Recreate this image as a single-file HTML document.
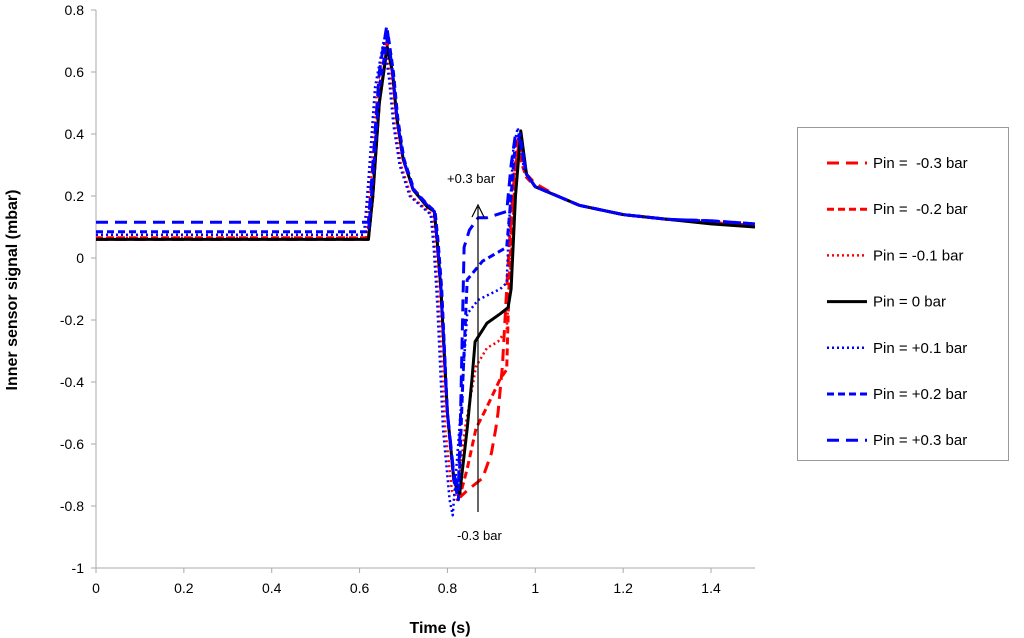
<!DOCTYPE html>
<html><head><meta charset="utf-8"><style>
body{margin:0;background:#fff;}
svg{display:block;font-family:"Liberation Sans",Arial,sans-serif;}
</style></head><body>
<svg id="chart" width="1024" height="638" viewBox="0 0 1024 638">
<g id="axes"></g>
<g id="series"></g>
<g>
<line x1="478" y1="512" x2="478" y2="207" stroke="#000" stroke-width="1.2"/>
<path d="M472,217 L478,205 L484,217" fill="none" stroke="#000" stroke-width="1.2"/>
<text x="447" y="183" font-size="13">+0.3 bar</text>
<text x="457" y="540" font-size="13">-0.3 bar</text>
</g>
<text x="440" y="633" font-size="16" font-weight="bold" text-anchor="middle">Time (s)</text>
<text transform="translate(17,290) rotate(-90)" font-size="16" font-weight="bold" text-anchor="middle">Inner sensor signal (mbar)</text>
<rect x="797.5" y="127.5" width="211" height="333" fill="#fff" stroke="#999"/>
<g id="legend"></g>
</svg>
<script>
const xTicks=[0,0.2,0.4,0.6,0.8,1,1.2,1.4];
const yTicks=[0.8,0.6,0.4,0.2,0,-0.2,-0.4,-0.6,-0.8,-1];
const seriesNames=["Pin =  -0.3 bar","Pin =  -0.2 bar","Pin = -0.1 bar","Pin = 0 bar","Pin = +0.1 bar","Pin = +0.2 bar","Pin = +0.3 bar"];
const tM30=[0,0.62,0.63,0.645,0.663,0.675,0.685,0.699,0.722,0.754,0.77,0.777,0.785,0.80,0.815,0.83,0.845,0.88,0.9,0.91,0.915,0.925,0.935,0.945,0.955,0.967,0.98,1.0,1.05,1.1,1.2,1.3,1.4,1.5];
const vM30=[0.06,0.06,0.2,0.5,0.69,0.6,0.45,0.32,0.22,0.17,0.15,0.05,-0.1,-0.5,-0.72,-0.77,-0.75,-0.71,-0.63,-0.55,-0.5,-0.35,-0.1,0.14,0.3,0.4,0.27,0.24,0.2,0.17,0.14,0.125,0.115,0.105];
const tM20=[0,0.62,0.63,0.645,0.663,0.675,0.685,0.699,0.722,0.754,0.77,0.777,0.785,0.80,0.815,0.83,0.845,0.865,0.89,0.92,0.935,0.94,0.95,0.96,0.97,0.98,1.0,1.05,1.1,1.2,1.3,1.4,1.5];
const vM20=[0.065,0.065,0.2,0.5,0.69,0.6,0.45,0.32,0.22,0.17,0.15,0.05,-0.1,-0.5,-0.72,-0.76,-0.68,-0.55,-0.48,-0.39,-0.36,-0.1,0.25,0.38,0.3,0.26,0.23,0.2,0.17,0.14,0.125,0.115,0.105];
const tM10=[0,0.615,0.625,0.64,0.658,0.67,0.68,0.694,0.717,0.749,0.765,0.772,0.78,0.795,0.81,0.822,0.84,0.865,0.89,0.915,0.935,0.945,0.955,0.965,0.98,1.0,1.05,1.1,1.2,1.3,1.4,1.5];
const vM10=[0.065,0.065,0.25,0.55,0.7,0.58,0.43,0.3,0.2,0.16,0.14,0.03,-0.15,-0.55,-0.75,-0.78,-0.55,-0.35,-0.29,-0.27,-0.23,0.0,0.3,0.38,0.27,0.23,0.2,0.17,0.14,0.125,0.115,0.105];
const t0=[0,0.62,0.63,0.645,0.663,0.675,0.685,0.699,0.722,0.754,0.77,0.777,0.785,0.80,0.815,0.828,0.845,0.856,0.863,0.89,0.92,0.938,0.945,0.955,0.967,0.98,1.0,1.05,1.1,1.2,1.3,1.4,1.5];
const v0=[0.06,0.06,0.2,0.5,0.68,0.6,0.45,0.32,0.22,0.165,0.15,0.05,-0.1,-0.5,-0.72,-0.76,-0.55,-0.39,-0.27,-0.21,-0.18,-0.16,-0.1,0.2,0.41,0.27,0.23,0.2,0.17,0.14,0.125,0.11,0.1];
const tP10=[0,0.61,0.62,0.635,0.655,0.667,0.677,0.691,0.714,0.746,0.762,0.769,0.777,0.79,0.805,0.812,0.83,0.845,0.87,0.92,0.935,0.94,0.95,0.96,0.975,1.0,1.05,1.1,1.2,1.3,1.4,1.5];
const vP10=[0.075,0.075,0.25,0.55,0.7,0.58,0.43,0.3,0.2,0.16,0.14,0.03,-0.15,-0.55,-0.78,-0.83,-0.5,-0.18,-0.135,-0.1,-0.08,0.1,0.35,0.42,0.28,0.23,0.2,0.17,0.14,0.125,0.12,0.11];
const tP20=[0,0.62,0.63,0.645,0.665,0.677,0.687,0.701,0.724,0.756,0.772,0.779,0.787,0.80,0.815,0.825,0.835,0.845,0.88,0.935,0.945,0.955,0.965,0.98,1.0,1.05,1.1,1.2,1.3,1.4,1.5];
const vP20=[0.085,0.085,0.25,0.55,0.72,0.6,0.45,0.32,0.22,0.17,0.15,0.05,-0.1,-0.5,-0.72,-0.78,-0.4,-0.07,-0.01,0.035,0.2,0.38,0.4,0.27,0.23,0.2,0.17,0.14,0.125,0.12,0.11];
const tP30=[0,0.62,0.63,0.645,0.662,0.675,0.685,0.699,0.722,0.754,0.77,0.777,0.785,0.80,0.815,0.825,0.83,0.838,0.85,0.87,0.89,0.935,0.945,0.955,0.965,0.98,1.0,1.05,1.1,1.2,1.3,1.4,1.5];
const vP30=[0.115,0.115,0.3,0.6,0.75,0.6,0.45,0.32,0.22,0.17,0.15,0.05,-0.1,-0.5,-0.7,-0.74,-0.5,0.035,0.09,0.13,0.13,0.15,0.3,0.4,0.38,0.27,0.23,0.2,0.17,0.14,0.125,0.12,0.11];
const X=t=>96+t*439.3, Y=v=>258-v*310;
const NS="http://www.w3.org/2000/svg";
const ax=document.getElementById('axes');
function mk(tag,attrs,parent){const e=document.createElementNS(NS,tag);for(const k in attrs)e.setAttribute(k,attrs[k]);parent.appendChild(e);return e;}
let l=mk('line',{x1:96,y1:Y(0.8),x2:96,y2:568,stroke:'#aaa'},ax);


l=mk('line',{x1:96,y1:568,x2:755,y2:568,stroke:'#aaa'},ax);


yTicks.forEach(v=>{
 const tk=mk('line',{x1:91,y1:Y(v),x2:96,y2:Y(v),stroke:'#aaa'},ax);
 
 
 const tx=mk('text',{x:84,y:Y(v)+5,'font-size':14,'text-anchor':'end'},ax);
 tx.textContent=String(v);
 
 
});
xTicks.forEach(t=>{
 const tk=mk('line',{x1:X(t),y1:568,x2:X(t),y2:573,stroke:'#aaa'},ax);
 
 
 const tx=mk('text',{x:X(t),y:593,'font-size':14,'text-anchor':'middle'},ax);
 tx.textContent=String(t);
 
 
});
const styles=[
 {c:'#f00',d:'12,7',w:3},{c:'#f00',d:'7,4',w:3},{c:'#f00',d:'2,3',w:2.5},
 {c:'#000',d:'',w:3},{c:'#00f',d:'2,3',w:2.5},{c:'#00f',d:'7,4',w:3},{c:'#00f',d:'12,7',w:3}];
const data=[[tM30,vM30],[tM20,vM20],[tM10,vM10],[t0,v0],[tP10,vP10],[tP20,vP20],[tP30,vP30]];
const sg=document.getElementById('series'), lg=document.getElementById('legend');
data.forEach((d,i)=>{
 const pts=d[0].map((t,j)=>X(t).toFixed(1)+','+Y(d[1][j]).toFixed(1)).join(' ');
 const p=mk('polyline',{points:pts,fill:'none',stroke:styles[i].c,'stroke-width':styles[i].w,'stroke-dasharray':styles[i].d,'stroke-linejoin':'round'},sg);
 
 
 const ly=163+i*46.2;
 const ll=mk('line',{x1:827,y1:ly,x2:867,y2:ly,stroke:styles[i].c,'stroke-width':styles[i].w,'stroke-dasharray':styles[i].d},lg);
 
 
 const lt=mk('text',{x:873,y:ly+5,'font-size':15},lg);
 lt.setAttribute('xml:space','preserve');
 lt.style.whiteSpace='pre';
 lt.textContent=seriesNames[i];
 
 
});
</script>
</body></html>
